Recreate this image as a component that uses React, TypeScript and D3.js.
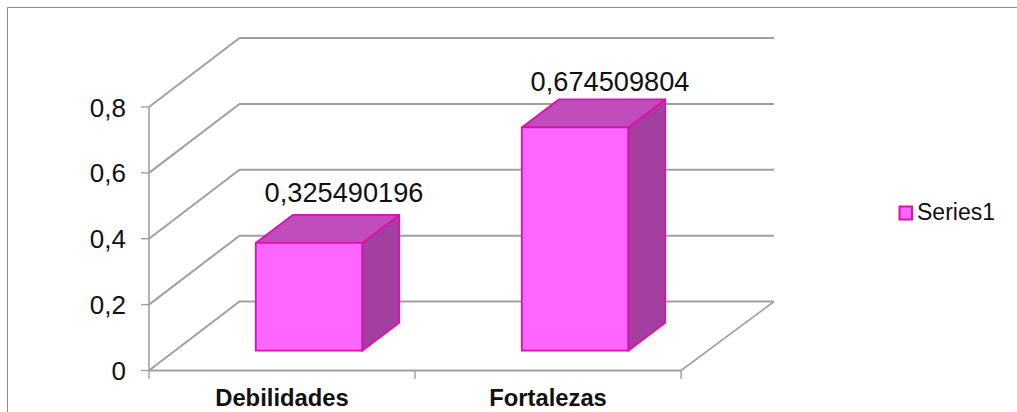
import React from "react";
import * as d3 from "d3";

const categories = ["Debilidades", "Fortalezas"];
const values = [0.325490196, 0.674509804];
const valueLabels = ["0,325490196", "0,674509804"];
const yTicks = [0, 0.2, 0.4, 0.6, 0.8];
const yTickLabels = ["0", "0,2", "0,4", "0,6", "0,8"];
const seriesName = "Series1";

const FONT = '"Liberation Sans", Arial, sans-serif';
const GRID = "#a0a0a0";
const FACE = "#ff66ff";
const TOP = "#bf4dbb";
const SIDE = "#a33f9f";
const EDGE = "#e00db0";
const INK = "#111111";

// Front plane of the 3D plot box and the shift to its back wall.
const xFront = d3.scaleBand<string>().domain(categories).range([149, 681]);
const yFront = d3.scaleLinear().domain([0, 0.8]).range([370.5, 107]);
const wallRise = 69;
const xBack = d3.scaleLinear().domain([149, 681]).range([239.5, 774]);

// Columns stand partway into the box, so they get their own baseline and shift.
const barBase = 350.7;
const barUnit = 331;
const barShiftX = 27;
const barDepthX = 37;
const barDepthY = 28;
const labelLift = [41, 36.4];

const pts = (p: number[][]) => p.map((q) => q.join(",")).join(" ");

export default function App() {
  const x0 = xFront.range()[0];
  const x1 = xFront.range()[1];
  const barW = xFront.bandwidth() / 2.5;

  return (
    <svg
      width={1017}
      height={412}
      style={{ position: "absolute", left: 0, top: 0, background: "#fff" }}
      fontFamily={FONT}
    >
      {/* chart area border */}
      <path d="M7.5,412V7.5H1017" fill="none" stroke="#8c8c8c" strokeWidth={1} />

      {/* wall gridlines and floor */}
      {yTicks.map((t) => (
        <polyline
          key={t}
          points={pts([
            [x0, yFront(t)],
            [xBack(x0), yFront(t) - wallRise],
            [xBack(x1), yFront(t) - wallRise],
          ])}
          fill="none"
          stroke={GRID}
          strokeWidth={2}
        />
      ))}
      <line
        x1={xBack(x1)}
        y1={yFront(0) - wallRise}
        x2={x1}
        y2={yFront(0)}
        stroke={GRID}
        strokeWidth={1.6}
      />

      {/* axes */}
      <line x1={x0} x2={x0} y1={yFront(0.8)} y2={yFront(0)} stroke={GRID} strokeWidth={1.6} />
      <line x1={x0} x2={x1} y1={yFront(0)} y2={yFront(0)} stroke={GRID} strokeWidth={2} />
      {yTicks.map((t, i) => (
        <g key={t}>
          <line x1={141} x2={x0} y1={yFront(t)} y2={yFront(t)} stroke={GRID} strokeWidth={1.4} />
          <text x={126} y={yFront(t) + 9.5} textAnchor="end" fontSize={26} fill={INK}>
            {yTickLabels[i]}
          </text>
        </g>
      ))}
      {[x0, ...categories.map((c) => (xFront(c) as number) + xFront.bandwidth())].map((x) => (
        <line key={x} x1={x} x2={x} y1={yFront(0)} y2={379} stroke={GRID} strokeWidth={1.4} />
      ))}
      {categories.map((c) => (
        <text
          key={c}
          x={(xFront(c) as number) + xFront.bandwidth() / 2}
          y={406}
          textAnchor="middle"
          fontSize={23.8}
          fontWeight="bold"
          fill={INK}
        >
          {c}
        </text>
      ))}

      {/* columns */}
      {categories.map((c, i) => {
        const cx = (xFront(c) as number) + xFront.bandwidth() / 2 + barShiftX;
        const l = cx - barW / 2;
        const r = cx + barW / 2;
        const top = barBase - values[i] * barUnit;
        return (
          <g key={c} stroke={EDGE} strokeWidth={1.8} strokeLinejoin="round">
            <polygon
              points={pts([
                [r, top],
                [r + barDepthX, top - barDepthY],
                [r + barDepthX, barBase - barDepthY],
                [r, barBase],
              ])}
              fill={SIDE}
            />
            <polygon
              points={pts([
                [l, top],
                [l + barDepthX, top - barDepthY],
                [r + barDepthX, top - barDepthY],
                [r, top],
              ])}
              fill={TOP}
            />
            <rect x={l} y={top} width={barW} height={barBase - top} fill={FACE} />
            <text
              x={cx + 35}
              y={top - labelLift[i]}
              textAnchor="middle"
              fontSize={27.2}
              fill={INK}
              stroke="none"
            >
              {valueLabels[i]}
            </text>
          </g>
        );
      })}

      {/* legend */}
      <rect x={899.5} y={206.5} width={12.5} height={13} fill={FACE} stroke={EDGE} strokeWidth={2} />
      <text x={917} y={220} fontSize={23} fill={INK}>
        {seriesName}
      </text>
    </svg>
  );
}
